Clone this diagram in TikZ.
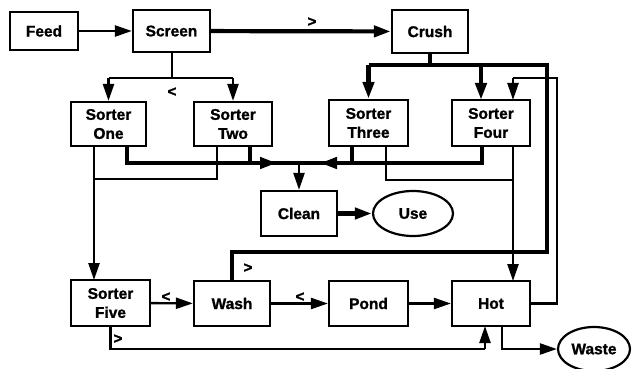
\documentclass[tikz,border=0pt]{standalone}
\usepackage{fontspec}
\setmainfont{Liberation Sans}[BoldFeatures={FakeBold=1.2}]
\usetikzlibrary{arrows.meta,shapes.geometric}
\begin{document}
\begin{tikzpicture}[x=1pt,y=-1pt,
  box/.style={draw,line width=2.2pt,rectangle,inner sep=0pt,align=center,font=\bfseries\fontsize{15.5}{19}\selectfont},
  oval/.style={draw,line width=2.2pt,ellipse,inner sep=0pt,font=\bfseries\fontsize{15.5}{19}\selectfont},
  tip/.style={-{Triangle[length=17pt,width=11pt]}},
  med/.style={line width=2.4pt},
  thk/.style={line width=4.2pt},
  thn/.style={line width=1.5pt},
  lbl/.style={font=\bfseries\fontsize{15}{15}\selectfont,inner sep=0pt}]
\useasboundingbox (0,0) rectangle (632,369);
\node[box,minimum width=68pt,minimum height=38pt] (feed) at (44,31) {Feed};
\node[box,minimum width=77pt,minimum height=42pt] (screen) at (171.5,31) {Screen};
\node[box,minimum width=76pt,minimum height=43pt] (crush) at (430,31.5) {Crush};
\node[box,minimum width=75pt,minimum height=44pt] (s1) at (108.5,124) {Sorter\\One};
\node[box,minimum width=78pt,minimum height=44pt] (s2) at (233,124) {Sorter\\Two};
\node[box,minimum width=79pt,minimum height=46pt] (s3) at (368.5,123) {Sorter\\Three};
\node[box,minimum width=78pt,minimum height=46pt] (s4) at (491,123) {Sorter\\Four};
\node[box,minimum width=76pt,minimum height=45pt] (clean) at (299,213.5) {Clean};
\node[oval,minimum width=80pt,minimum height=45pt] (use) at (413,213.5) {Use};
\node[box,minimum width=79pt,minimum height=46pt] (s5) at (110.5,303) {Sorter\\Five};
\node[box,minimum width=76pt,minimum height=45pt] (wash) at (232,303.5) {Wash};
\node[box,minimum width=79pt,minimum height=45pt] (pond) at (368.5,303.5) {Pond};
\node[box,minimum width=78pt,minimum height=45pt] (hot) at (491,303.5) {Hot};
\node[oval,minimum width=72pt,minimum height=44pt] (waste) at (594,349) {Waste};
% labels
\node[lbl] (l1) at (312,22) {>};
\node[lbl] (l2) at (172,92) {<};
\node[lbl] (l3) at (248,268) {>};
\node[lbl] (l4) at (166,297) {<};
\node[lbl] (l5) at (300,297) {<};
\node[lbl] (l6) at (118,339) {>};
% coordinates
\coordinate (sj) at (172,78);
\coordinate (cj) at (430,65);
\coordinate (m) at (299,163);
\coordinate (wl) at (547,252);
% top row
\draw[med,tip] (feed) -- (screen);
\draw[thk,tip] (screen) -- (crush);
% screen split
\draw[med] (screen.south -| sj) -- (sj);
\draw[med] (sj -| s1.north) -- (sj -| s2.north);
\draw[med,tip] (sj -| s1.north) -- (s1.north);
\draw[med,tip] (sj -| s2.north) -- (s2.north);
% crush split
\draw[thk] (crush.south) -- (cj);
\draw[thk] (cj -| s3.north) -- (547,65) -- (wl) -- (wl -| wash.north) -- (wash.north);
\draw[thk,tip] (cj -| s3.north) -- (s3.north);
\draw[thk,tip] (481,65) -- (481,100);
% hot recycle to sorter four
\draw[med] (hot.east) -| (557,78) -- (513,78);
\draw[med,tip] (513,78) -- (513,100);
% sorter one/two to clean
\draw[thk] (127,146) |- (m);
\draw[thk,tip] (127,163) -- (277,163);
\draw[thk] (250,146) -- (250,163);
\draw[thk] (352,146) |- (m);
\draw[thk,tip] (352,163) -- (320,163);
\draw[thk] (482,146) |- (352,163);
\draw[med,tip] (m) -- (clean.north);
\draw[thk,tip] (clean) -- (use);
% thin lines
\draw[med,tip] (94,146) -- (94,280);
\draw[thn] (217,146) |- (94,179);
\draw[thn] (386,146) |- (513,180);
\draw[med,tip] (513,146) -- (513,281);
% bottom row
\draw[med,tip] (s5) -- (wash);
\draw[med,tip] (wash) -- (pond);
\draw[med,tip] (pond) -- (hot);
\draw[med] (s5.south) |- (485,349);
\draw[med,tip] (485,349) -- (485,326);
\draw[med,tip] (502,326) |- (waste.west);
\end{tikzpicture}
\end{document}
